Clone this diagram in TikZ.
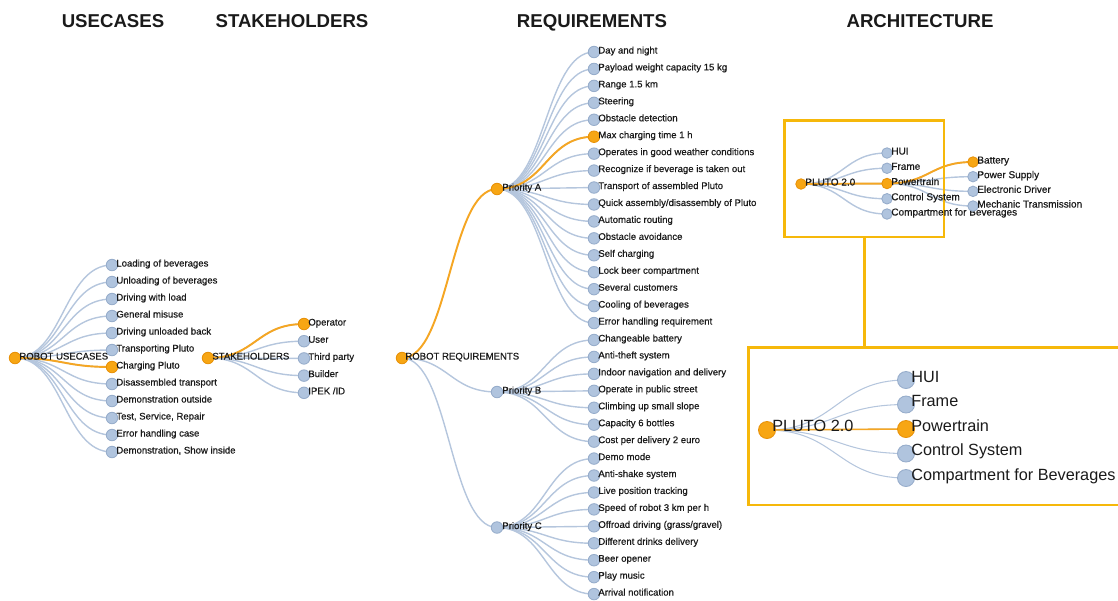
\documentclass[tikz,border=0pt]{standalone}
\usepackage{fontspec}
\setmainfont{Liberation Sans}
\newfontfamily\heavyfont[FakeBold=0.6]{Liberation Sans}
\usetikzlibrary{calc,backgrounds}
\definecolor{lk}{HTML}{B5C6DD}
\definecolor{cf}{HTML}{B0C4DE}
\definecolor{cs}{HTML}{97ADCB}
\definecolor{of}{HTML}{F7A614}
\definecolor{os}{HTML}{E8920A}
\definecolor{ol}{HTML}{F5A623}
\definecolor{bx}{HTML}{F6B80A}
\definecolor{tx}{HTML}{1A1A1A}
\begin{document}
\begin{tikzpicture}[x=0.02cm,y=-0.02cm,
  leaf/.style={circle,draw=cs,fill=cf,line width=0.5pt,inner sep=0pt,minimum size=0.23cm},
  hot/.style={leaf,draw=os,fill=of},
  aleaf/.style={leaf,minimum size=0.21cm},
  ahot/.style={hot,minimum size=0.21cm},
  bigleaf/.style={leaf,minimum size=0.34cm},
  bighot/.style={hot,minimum size=0.34cm},
  lbl/.style={font=\heavyfont\fontsize{5.45}{6}\selectfont,text=tx,inner sep=0pt,anchor=base west},
  albl/.style={lbl,font=\heavyfont\fontsize{5.7}{6.5}\selectfont},
  blbl/.style={lbl,font=\fontsize{9.25}{11}\selectfont},
  ttl/.style={font=\fontsize{10.6}{12}\selectfont\bfseries,text=tx,inner sep=0pt,anchor=base},
  link/.style={draw=lk,line width=0.8pt},
  hlink/.style={draw=ol,line width=1.1pt},
  diag/.style={to path={let \p1=(\tikztostart),\p2=(\tikztotarget) in .. controls ({0.5*(\x1+\x2)},\y1) and ({0.5*(\x1+\x2)},\y2) .. (\tikztotarget)}},
  box/.style={draw=bx,line width=1.7pt,inner sep=0pt}
]
\useasboundingbox (0,0) rectangle (1118,600);

% titles
\node[ttl] (t1) at (113,27.5) {USECASES};
\node[ttl] (t2) at (292,27.5) {STAKEHOLDERS};
\node[ttl] (t3) at (592,27.5) {REQUIREMENTS};
\node[ttl] (t4) at (920,27.5) {ARCHITECTURE};

% ---------- usecases
\node[hot] (uc) at (15,358) {};
\node[lbl] (uc-t) at (19,359.5) {ROBOT USECASES};
\foreach \t [count=\i] in {Loading of beverages,Unloading of beverages,Driving with load,General misuse,Driving unloaded back,Transporting Pluto,Charging Pluto,Disassembled transport,Demonstration outside,{Test, Service, Repair},Error handling case,{Demonstration, Show inside}}{
  \ifnum\i=7 \def\s{hot}\else\def\s{leaf}\fi
  \node[\s] (uc\i) at (112,{265+17*(\i-1)}) {};
  \node[lbl] (uc\i-t) at (116,{266.5+17*(\i-1)}) {\t};
}
\begin{scope}[on background layer]
  \foreach \i in {1,...,12} \draw[link] (uc.center) to[diag] (uc\i.center);
  \draw[hlink] (uc.center) to[diag] (uc7.center);
\end{scope}

% ---------- stakeholders
\node[hot] (sh) at (208,358) {};
\node[lbl] (sh-t) at (212,359.5) {STAKEHOLDERS};
\foreach \t [count=\i] in {Operator,User,Third party,Builder,IPEK /ID}{
  \ifnum\i=1 \def\s{hot}\else\def\s{leaf}\fi
  \node[\s] (sh\i) at (304,{324+17.2*(\i-1)}) {};
  \node[lbl] (sh\i-t) at (308,{325.5+17.2*(\i-1)}) {\t};
}
\begin{scope}[on background layer]
  \foreach \i in {1,...,5} \draw[link] (sh.center) to[diag] (sh\i.center);
  \draw[hlink] (sh.center) to[diag] (sh1.center);
\end{scope}

% ---------- requirements
\node[hot] (rq) at (402,358) {};
\node[lbl] (rq-t) at (405,359.5) {ROBOT REQUIREMENTS};
\node[hot] (pa) at (497,189) {};
\node[lbl] (pa-t) at (502,190.5) {Priority A};
\node[leaf] (pb) at (497,392) {};
\node[lbl] (pb-t) at (502,393.5) {Priority B};
\node[leaf] (pc) at (497,527.5) {};
\node[lbl] (pc-t) at (502,529) {Priority C};
\foreach \t [count=\i] in {Day and night,Payload weight capacity 15 kg,Range 1.5 km,Steering,Obstacle detection,Max charging time 1 h,Operates in good weather conditions,Recognize if beverage is taken out,Transport of assembled Pluto,Quick assembly/disassembly of Pluto,Automatic routing,Obstacle avoidance,Self charging,Lock beer compartment,Several customers,Cooling of beverages,Error handling requirement,Changeable battery,Anti-theft system,Indoor navigation and delivery,Operate in public street,Climbing up small slope,Capacity 6 bottles,Cost per delivery 2 euro,Demo mode,Anti-shake system,Live position tracking,Speed of robot 3 km per h,Offroad driving (grass/gravel),Different drinks delivery,Beer opener,Play music,Arrival notification}{
  \ifnum\i=6 \def\s{hot}\else\def\s{leaf}\fi
  \node[\s] (r\i) at (594,{52+16.94*(\i-1)}) {};
  \node[lbl] (r\i-t) at (598,{53.5+16.94*(\i-1)}) {\t};
}
\begin{scope}[on background layer]
  \draw[link] (rq.center) to[diag] (pb.center);
  \draw[link] (rq.center) to[diag] (pc.center);
  \foreach \i in {1,...,17} \draw[link] (pa.center) to[diag] (r\i.center);
  \foreach \i in {18,...,24} \draw[link] (pb.center) to[diag] (r\i.center);
  \foreach \i in {25,...,33} \draw[link] (pc.center) to[diag] (r\i.center);
  \draw[hlink] (rq.center) to[diag] (pa.center);
  \draw[hlink] (pa.center) to[diag] (r6.center);
\end{scope}

% ---------- architecture (small)
\node[box,minimum width=3.2cm,minimum height=2.34cm] (sbox) at (864,178.5) {};
\node[ahot] (ar) at (801,184) {};
\node[albl] (ar-t) at (805,185.5) {PLUTO 2.0};
\foreach \t [count=\i] in {HUI,Frame,Powertrain,Control System,Compartment for Beverages}{
  \ifnum\i=3 \def\s{ahot}\else\def\s{aleaf}\fi
  \node[\s] (ac\i) at (887,{153+15.25*(\i-1)}) {};
  \node[albl] (ac\i-t) at (891,{154.5+15.25*(\i-1)}) {\t};
}
\foreach \t [count=\i] in {Battery,Power Supply,Electronic Driver,Mechanic Transmission}{
  \ifnum\i=1 \def\s{ahot}\else\def\s{aleaf}\fi
  \node[\s] (ap\i) at (973,{162+14.67*(\i-1)}) {};
  \node[albl] (ap\i-t) at (977,{163.5+14.67*(\i-1)}) {\t};
}
\begin{scope}[on background layer]
  \foreach \i in {1,...,5} \draw[link] (ar.center) to[diag] (ac\i.center);
  \foreach \i in {1,...,4} \draw[link] (ac3.center) to[diag] (ap\i.center);
  \draw[hlink] (ar.center) to[diag] (ac3.center);
  \draw[hlink] (ac3.center) to[diag] (ap1.center);
\end{scope}

% ---------- architecture (zoomed)
\node[box,minimum width=7.64cm,minimum height=3.16cm] (bbox) at (939,426) {};
\draw[box] (sbox.south) -- (sbox.south |- bbox.north);
\node[bighot] (br) at (767,430) {};
\node[blbl] (br-t) at (772,431.5) {PLUTO 2.0};
\foreach \t [count=\i] in {HUI,Frame,Powertrain,Control System,Compartment for Beverages}{
  \ifnum\i=3 \def\s{bighot}\else\def\s{bigleaf}\fi
  \node[\s] (bc\i) at (906,{380+24.5*(\i-1)}) {};
  \node[blbl] (bc\i-t) at (911,{382+24.5*(\i-1)}) {\t};
}
\begin{scope}[on background layer]
  \foreach \i in {1,...,5} \draw[link,line width=0.6pt] (br.center) to[diag] (bc\i.center);
  \draw[hlink,line width=0.9pt] (br.center) to[diag] (bc3.center);
\end{scope}
\end{tikzpicture}
\end{document}
